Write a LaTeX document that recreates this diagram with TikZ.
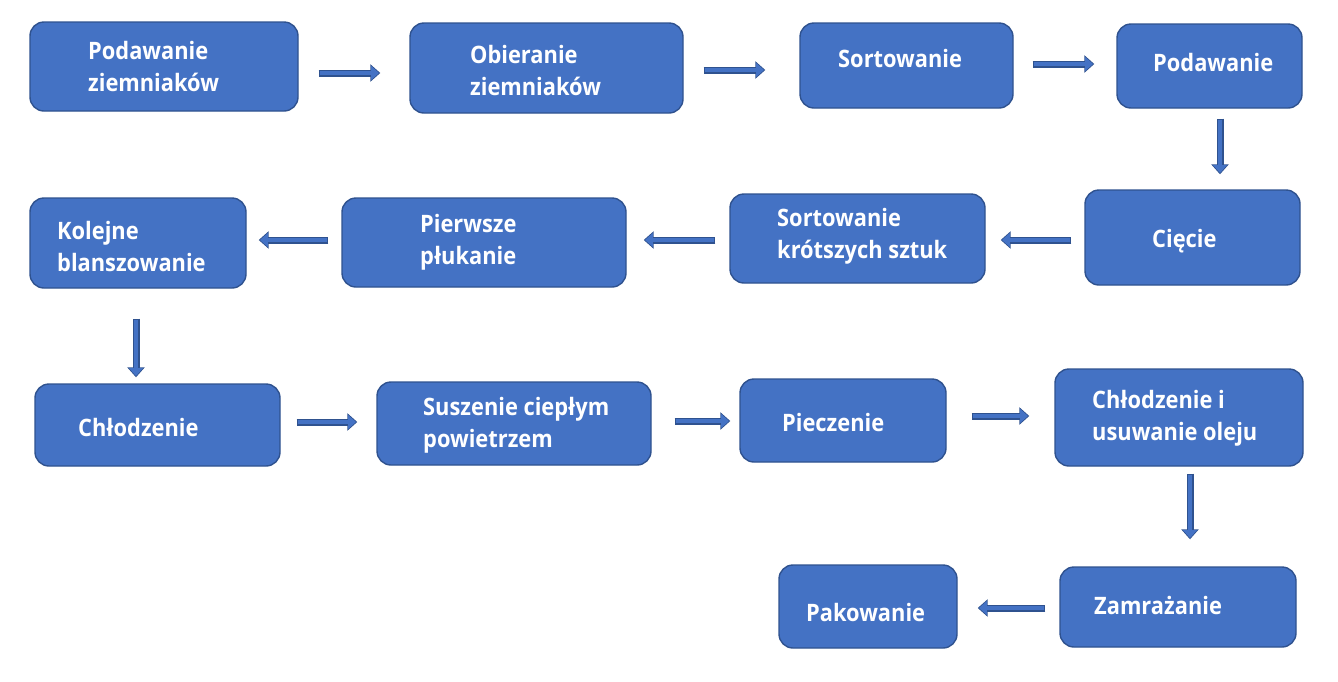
\documentclass[tikz,border=0pt]{standalone}
\usepackage{fontspec}
\setmainfont{Open Sans}[FakeStretch=0.91]
\usetikzlibrary{arrows.meta,calc}
\definecolor{boxfill}{HTML}{4472C4}
\definecolor{boxedge}{HTML}{2F528F}
\newcommand{\flowbox}[5]{%
  \node[stepbox, minimum width={(#4-#2)*1pt}, minimum height={(#5-#3)*1pt}] (#1) at ({(#2+#4)/2},{(#3+#5)/2}) {};}
\begin{document}
\begin{tikzpicture}[x=1pt,y=-1pt,
  stepbox/.style={rectangle, rounded corners=14pt, fill=boxfill, draw=boxedge, line width=1.4pt, inner sep=0pt},
  lbl/.style={anchor=west, text=white, font=\fontsize{24}{32}\selectfont\bfseries, align=left, inner sep=0pt},
  flow/.style={line width=7pt, draw=boxedge, -{Triangle[length=10pt,width=17pt]},
    postaction={draw=boxfill, line width=4.4pt, -{Triangle[length=7.8pt,width=13.4pt]}, shorten >=1.3pt, shorten <=1pt}}]
\useasboundingbox (0,0) rectangle (1338,681);
\fill[white] (0,0) rectangle (1338,681);
% boxes
\flowbox{b1}{30}{22}{298}{111}
\flowbox{b2}{410}{23}{683}{113}
\flowbox{b3}{800}{23}{1013}{108}
\flowbox{b4}{1117}{24}{1302}{108}
\flowbox{b5}{1085}{190}{1300}{285}
\flowbox{b6}{730}{194}{985}{283}
\flowbox{b7}{342}{198}{626}{287}
\flowbox{b8}{30}{198}{246}{288}
\flowbox{b9}{35}{384}{280}{466}
\flowbox{b10}{377}{382}{651}{465}
\flowbox{b11}{740}{379}{946}{462}
\flowbox{b12}{1055}{369}{1303}{466}
\flowbox{b13}{1060}{567}{1296}{647}
\flowbox{b14}{779}{565}{957}{648}
% labels
\node[lbl] (t1) at (88,66) {Podawanie\\ziemniaków};
\node[lbl] (t2) at (470,70) {Obieranie\\ziemniaków};
\node[lbl] (t3) at (838,58) {Sortowanie};
\node[lbl] (t4) at (1153,62) {Podawanie};
\node[lbl] (t5) at (1152,241) {Cięcie};
\node[lbl] (t6) at (777,236) {Sortowanie\\krótszych sztuk};
\node[lbl] (t7) at (420,242) {Pierwsze\\płukanie};
\node[lbl] (t8) at (57,246) {Kolejne\\blanszowanie};
\node[lbl] (t9) at (78,427) {Chłodzenie};
\node[lbl] (t10) at (423,425) {Suszenie ciepłym\\powietrzem};
\node[lbl] (t11) at (782,422) {Pieczenie};
\node[lbl] (t12) at (1092,418) {Chłodzenie i\\usuwanie oleju};
\node[lbl] (t13) at (1094,605) {Zamrażanie};
\node[lbl] (t14) at (806,612) {Pakowanie};
% arrows
\draw[flow] ($(b1.east)+(20,6.5)$) -- ($(b2.west)+(-29,5)$);
\draw[flow] ($(b2.east)+(20,2)$) -- ($(b3.west)+(-34,4.5)$);
\draw[flow] ($(b3.east)+(19,-1.5)$) -- ($(b4.west)+(-22,-2)$);
\draw[flow] ($(b4.south)+(10.5,10)$) -- ($(b5.north)+(27.5,-15)$);
\draw[flow] ($(b5.west)+(-13,2.5)$) -- ($(b6.east)+(15,1.5)$);
\draw[flow] ($(b6.west)+(-14,1.5)$) -- ($(b7.east)+(17,-2.5)$);
\draw[flow] ($(b7.west)+(-13,-2.5)$) -- ($(b8.east)+(12,-3)$);
\draw[flow] ($(b8.south)+(-2,30)$) -- ($(b9.north)+(-21.5,-6)$);
\draw[flow] ($(b9.east)+(16,-3)$) -- ($(b10.west)+(-19,-1.5)$);
\draw[flow] ($(b10.east)+(23,-2.5)$) -- ($(b11.west)+(-9,0.5)$);
\draw[flow] ($(b11.east)+(25,-4.5)$) -- ($(b12.west)+(-25,-1.5)$);
\draw[flow] ($(b12.south)+(11,7)$) -- ($(b13.north)+(12,-27)$);
\draw[flow] ($(b13.west)+(-14,1)$) -- ($(b14.east)+(20,1.5)$);
\end{tikzpicture}
\end{document}
